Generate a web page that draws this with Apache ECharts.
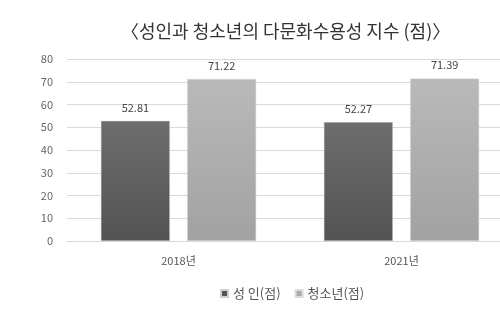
<!DOCTYPE html>
<html><head><meta charset="utf-8">
<script src="https://cdn.jsdelivr.net/npm/echarts@6/dist/echarts.min.js"></script>
<style>html,body{margin:0;padding:0;background:#fff;overflow:hidden;width:500px;height:334px}#c{width:513px;height:334px}</style>
</head><body><div id="c"></div>
<script>
const categories = ['2018년', '2021년'];
const adult = [52.81, 52.27];
const youth = [71.22, 71.39];
const seriesNames = ['성 인(점)', '청소년(점)'];
const titleText = '〈성인과 청소년의 다문화수용성 지수 (점)〉';

const font = "'Noto Sans CJK KR', 'Noto Sans', sans-serif";
const chart = echarts.init(document.getElementById('c'));
function grad(top, bottom){
  return new echarts.graphic.LinearGradient(0,0,0,1,[{offset:0,color:top},{offset:1,color:bottom}]);
}
chart.setOption({
  animation:false,
  title:{text:titleText,left:116,top:17,textStyle:{fontFamily:font,fontSize:18,fontWeight:'normal',color:'#333'}},
  legend:{top:282,left:215,itemWidth:7,itemHeight:7,itemGap:14,itemTextGap:3,icon:'rect',
    textStyle:{fontFamily:font,fontSize:13,color:'#555'},
    data:[{name:seriesNames[0],itemStyle:{color:'#555'}},{name:seriesNames[1],itemStyle:{color:'#aaa'}}]},
  grid:{left:67,right:0,top:59,bottom:93},
  xAxis:{type:'category',data:categories,axisTick:{show:false},
    axisLine:{lineStyle:{color:'#d9d9d9'}},
    axisLabel:{fontFamily:font,fontSize:11,color:'#555',margin:14}},
  yAxis:{type:'value',min:0,max:80,interval:10,axisLine:{show:false},axisTick:{show:false},
    splitLine:{lineStyle:{color:'#d9d9d9'}},
    axisLabel:{fontFamily:font,fontSize:11,color:'#666',margin:14}},
  series:[
    {name:seriesNames[0],type:'bar',data:adult,barWidth:69,barGap:'25%',
     itemStyle:{color:grad('#6d6d6d','#535353'),borderColor:'#cfcfcf',borderWidth:0.5},
     label:{show:true,position:'top',distance:8,fontFamily:font,fontSize:11,color:'#444'}},
    {name:seriesNames[1],type:'bar',data:youth,barWidth:69,
     itemStyle:{color:grad('#b9b9b9','#a2a2a2'),borderColor:'#dcdcdc',borderWidth:0.5},
     label:{show:true,position:'top',distance:8,fontFamily:font,fontSize:11,color:'#444'}}
  ]
});
</script></body></html>
